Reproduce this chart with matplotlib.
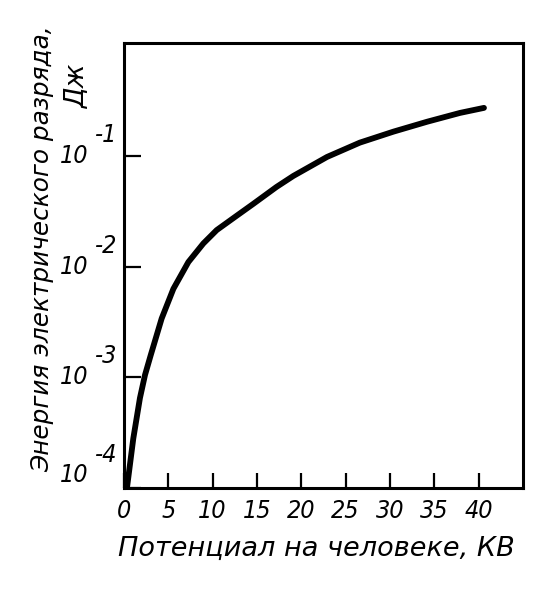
import matplotlib.pyplot as plt
from matplotlib.ticker import NullLocator

# Data
potential_kv = [0.3, 1.05, 1.8, 2.37, 3.01, 4.25, 5.57, 7.26, 8.95, 10.46,
                12.7, 14.6, 17.2, 19.1, 22.9, 26.6, 30.4, 34.2, 37.9, 40.6]
energy_j = [9.5e-5, 2.8e-4, 6.5e-4, 1.05e-3, 1.58e-3, 3.4e-3, 6.3e-3,
            1.1e-2, 1.62e-2, 2.14e-2, 2.88e-2, 3.7e-2, 5.25e-2, 6.6e-2,
            9.8e-2, 0.132, 0.166, 0.204, 0.245, 0.272]

x_ticks = [0, 5, 10, 15, 20, 25, 30, 35, 40]
y_exps = [-1, -2, -3, -4]

x_label = "Потенциал на человеке, КВ"
y_label = "Энергия электрического разряда,"
y_unit = "Дж"

label_font = ["DejaVu Sans"]
tick_font = ["DejaVu Sans"]

# ==========================
# Figure
# ==========================

fig = plt.figure(figsize=(5.54, 6), dpi=100)
ax = fig.add_axes([0.2238, 0.1867, 0.7202, 0.7417])

ax.plot(potential_kv, energy_j, color="black", lw=4.2,
        solid_capstyle="round", solid_joinstyle="round")

ax.set_yscale("log")
ax.set_xlim(0, 45)
ax.set_ylim(1.05e-4, 1.05)

ax.set_xticks(x_ticks)
ax.set_xticklabels([str(v) for v in x_ticks], family=tick_font,
                   style="italic", stretch="condensed", fontsize=18)
ax.set_yticks([10.0 ** e for e in y_exps])
ax.set_yticklabels([])
ax.yaxis.set_minor_locator(NullLocator())
ax.xaxis.set_minor_locator(NullLocator())

ax.tick_params(axis="x", direction="in", length=11, width=1.6, pad=8)
ax.tick_params(axis="y", direction="in", length=12, width=1.6)

for sp in ax.spines.values():
    sp.set_linewidth(2.2)

# y tick labels: "10" with a big raised exponent
for e in y_exps:
    dy = 9 if e == -4 else 0
    ax.annotate("10", xy=(0, 10.0 ** e), xycoords=("axes fraction", "data"),
                xytext=(-25.5, dy), textcoords="offset points",
                ha="right", va="center", family=tick_font,
                style="italic", stretch="condensed", fontsize=18)
    ax.annotate("-" + str(-e), xy=(0, 10.0 ** e),
                xycoords=("axes fraction", "data"),
                xytext=(-21, dy + 15), textcoords="offset points",
                ha="left", va="center", family=tick_font,
                style="italic", stretch="condensed", fontsize=18)

fig.text(316 / 554, 1 - 556 / 600, x_label, ha="center", va="baseline",
         family=label_font, style="italic", fontsize=19.5)

fig.text(42 / 554, 1 - 25 / 600, y_label, rotation=90, ha="center",
         va="top", family=label_font, style="italic", fontsize=17.8)
fig.text(77 / 554, 1 - 86 / 600, y_unit, rotation=90, ha="center",
         va="center", family=label_font, style="italic", fontsize=19)

fig.savefig("out.png", dpi=100, facecolor="white")
